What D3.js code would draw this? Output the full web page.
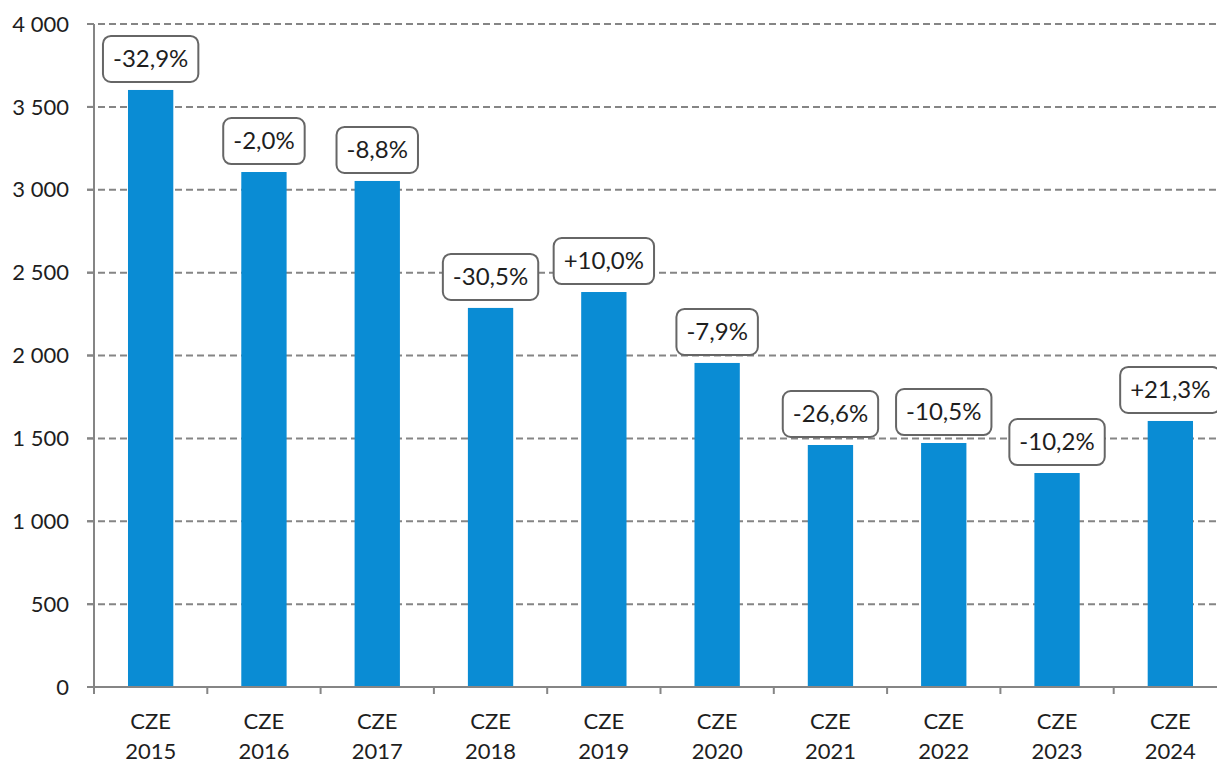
<!DOCTYPE html>
<html>
<head>
<meta charset="utf-8">
<script src="https://cdn.jsdelivr.net/npm/d3@7"></script>
<style>
  body { margin: 0; background: #fff; }
  text { font-family: Lato, "Liberation Sans", sans-serif; fill: #1e1e1e; }
</style>
</head>
<body>
<div id="chart"></div>
<script>
const years = ['2015', '2016', '2017', '2018', '2019', '2020', '2021', '2022', '2023', '2024'];
const values = [3602, 3107, 3053, 2287, 2383, 1955, 1460, 1472, 1291, 1605];
const changes = ['-32,9%', '-2,0%', '-8,8%', '-30,5%', '+10,0%', '-7,9%', '-26,6%', '-10,5%', '-10,2%', '+21,3%'];
const yTicks = [0, 500, 1000, 1500, 2000, 2500, 3000, 3500, 4000];

const W = 1217, H = 763;
// plot area runs a bit past the right edge of the window
const m = { left: 94, right: -10, top: 24, bottom: 76 };

const svg = d3.select('#chart').append('svg')
    .attr('width', W).attr('height', H);

const x = d3.scaleBand()
    .domain(years)
    .range([m.left, W - m.right])
    .paddingInner(0.6)
    .paddingOuter(0.3);

const y = d3.scaleLinear()
    .domain([0, 4000])
    .range([H - m.bottom, m.top]);

const fmt = v => d3.format(',')(v).replace(/,/g, ' ');

// grid
svg.append('g')
    .selectAll('line')
    .data(yTicks.filter(d => d > 0))
    .enter()
    .append('line')
    .attr('x1', m.left - 7).attr('x2', W)
    .attr('y1', d => y(d)).attr('y2', d => y(d))
    .attr('stroke', '#858585')
    .attr('stroke-width', 2)
    .attr('stroke-dasharray', '7,4');

// y labels
svg.append('g')
    .selectAll('text')
    .data(yTicks)
    .enter()
    .append('text')
    .attr('x', 69)
    .attr('y', d => y(d))
    .attr('dy', '0.35em')
    .attr('text-anchor', 'end')
    .style('font-size', '22px')
    .text(fmt);

// bars
svg.append('g')
    .selectAll('rect')
    .data(values)
    .enter()
    .append('rect')
    .attr('x', (d, i) => x(years[i]))
    .attr('y', d => y(d))
    .attr('width', x.bandwidth())
    .attr('height', d => y(0) - y(d))
    .attr('fill', '#0A8CD4');

// axes
const axisColor = '#858585';
svg.append('line')
    .attr('x1', m.left).attr('x2', m.left)
    .attr('y1', y(4000)).attr('y2', y(0) + 7)
    .attr('stroke', axisColor).attr('stroke-width', 2);
svg.append('line')
    .attr('x1', m.left - 7).attr('x2', W)
    .attr('y1', y(0)).attr('y2', y(0))
    .attr('stroke', axisColor).attr('stroke-width', 2);
svg.append('g')
    .selectAll('line')
    .data(yTicks)
    .enter()
    .append('line')
    .attr('x1', m.left - 7).attr('x2', m.left)
    .attr('y1', d => y(d)).attr('y2', d => y(d))
    .attr('stroke', axisColor).attr('stroke-width', 2);

svg.append('g')
    .selectAll('line')
    .data(d3.range(years.length + 1))
    .enter()
    .append('line')
    .attr('x1', i => m.left + i * x.step())
    .attr('x2', i => m.left + i * x.step())
    .attr('y1', y(0)).attr('y2', y(0) + 7)
    .attr('stroke', axisColor).attr('stroke-width', 2);

// x labels
const xl = svg.append('g')
    .selectAll('text')
    .data(years)
    .enter()
    .append('text')
    .attr('text-anchor', 'middle')
    .style('font-size', '22px');
xl.append('tspan').attr('x', d => x(d) + x.bandwidth() / 2).attr('y', 729).text('CZE');
xl.append('tspan').attr('x', d => x(d) + x.bandwidth() / 2).attr('y', 759).text(d => d);

// change labels
const lab = svg.append('g')
    .selectAll('g')
    .data(values)
    .enter()
    .append('g')
    .attr('transform', (d, i) => `translate(${x(years[i]) + x.bandwidth() / 2},${y(d) - 8})`);

lab.append('text')
    .attr('text-anchor', 'middle')
    .attr('y', -23)
    .attr('dy', '0.35em')
    .style('font-size', '24px')
    .text((d, i) => changes[i]);

lab.insert('rect', 'text')
    .each(function () {
        const t = d3.select(this.parentNode).select('text').node().getBBox();
        const w = t.width + 20;
        d3.select(this)
            .attr('x', -w / 2)
            .attr('y', -46)
            .attr('width', w)
            .attr('height', 46)
            .attr('rx', 8)
            .attr('fill', '#fff')
            .attr('stroke', '#666')
            .attr('stroke-width', 2);
    });
</script>
</body>
</html>
